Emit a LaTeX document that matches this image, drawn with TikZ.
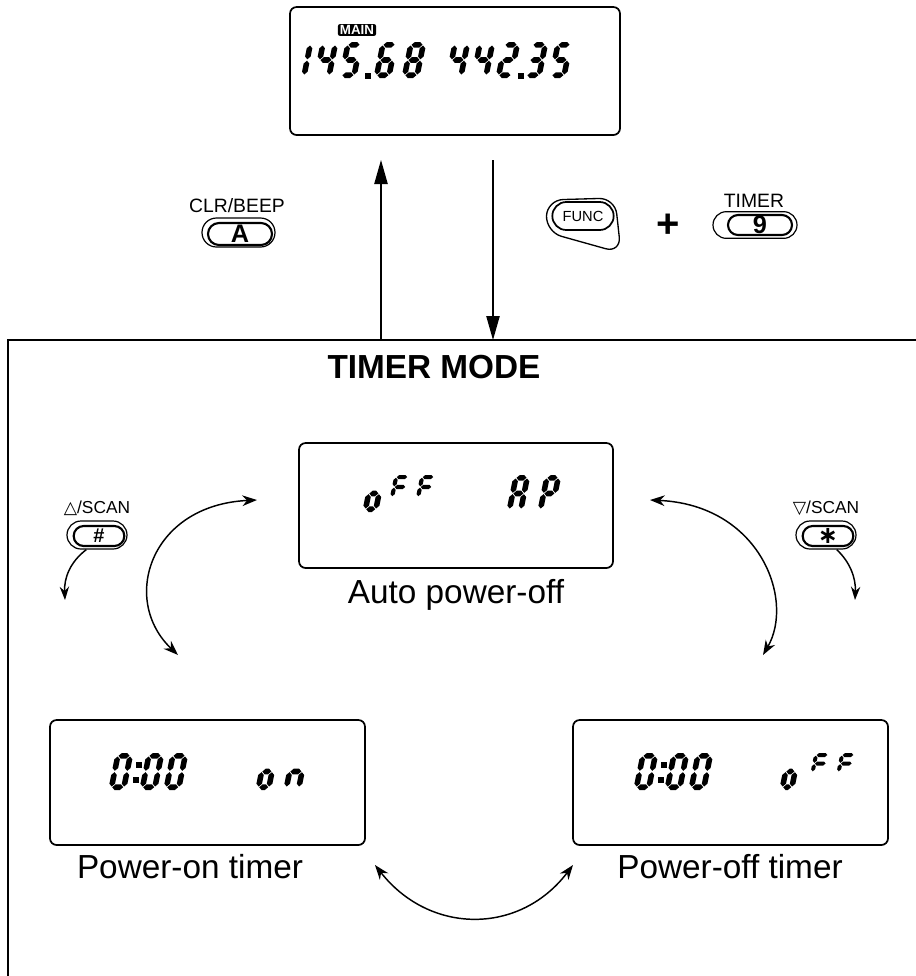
\documentclass[tikz,border=0pt]{standalone}
\usepackage{fontspec}
\setmainfont{Liberation Sans}
\newfontfamily\dejavu{DejaVu Sans}
\usetikzlibrary{arrows.meta,shapes.misc}
\newcommand\sgHor[1]{\fill ({\sgG},{#1}) -- ({\sgG+\sgT},{#1-\sgT}) -- ({\sgW-\sgG-\sgT},{#1-\sgT}) -- ({\sgW-\sgG},{#1}) -- ({\sgW-\sgG-\sgT},{#1+\sgT}) -- ({\sgG+\sgT},{#1+\sgT}) -- cycle;}
\newcommand\sgVer[3]{\fill ({#1},{#2+\sgG}) -- ({#1+\sgT},{#2+\sgG+\sgT}) -- ({#1+\sgT},{#3-\sgG-\sgT}) -- ({#1},{#3-\sgG}) -- ({#1-\sgT},{#3-\sgG-\sgT}) -- ({#1-\sgT},{#2+\sgG+\sgT}) -- cycle;}
\newcommand\lcdsegA{\sgHor{0}}
\newcommand\lcdsegD{\sgHor{\sgH}}
\newcommand\lcdsegG{\sgHor{0.5*\sgH}}
\newcommand\lcdsegB{\sgVer{\sgW}{0}{0.5*\sgH}}
\newcommand\lcdsegC{\sgVer{\sgW}{0.5*\sgH}{\sgH}}
\newcommand\lcdsegE{\sgVer{0}{0.5*\sgH}{\sgH}}
\newcommand\lcdsegF{\sgVer{0}{0}{0.5*\sgH}}
% #1 x (visible top-left), #2 y (visible top), #3 width, #4 height, #5 half thickness, #6 segments
\newcommand\lcdchar[6]{\begin{scope}[shift={({#1+#5},{#2+#5})},xslant=0.2]\pgfmathsetmacro\sgW{#3-2*#5}\pgfmathsetmacro\sgH{#4-2*#5}\def\sgT{#5}\def\sgG{0.7}\foreach \s in {#6}{\csname lcdseg\s\endcsname}\end{scope}}
\newcommand\lcddot[2]{\fill ({#1-2.7},{#2-2.7}) rectangle ({#1+2.7},{#2+2.7});}
\begin{document}
\begin{tikzpicture}[x=0.75pt,y=-0.75pt,
 lcdbox/.style={draw,line width=1.3pt,rounded corners=5pt,inner sep=0pt,minimum height=93.75pt},
 caption/.style={font=\fontsize{25}{30}\selectfont},
 keylbl/.style={font=\fontsize{14.5}{17}\selectfont},
 scanlbl/.style={font=\fontsize{13}{15}\selectfont},
 keyout/.style={draw,rounded rectangle,line width=0.9pt,inner sep=0pt},
 keyin/.style={draw,rounded rectangle,line width=1.6pt,inner sep=0pt,font=\fontsize{19}{20}\selectfont\bfseries},
 bigarrow/.style={line width=1pt,-{Triangle[length=18pt,width=10pt]}},
 curvarrow/.style={line width=1.1pt,{Stealth[length=11pt,width=8pt]}-{Stealth[length=11pt,width=8pt]}},
 smallarrow/.style={line width=1.1pt,-{Stealth[length=10pt,width=7pt]}}]
\useasboundingbox (0,0) rectangle (916,976);

% top display
\node[lcdbox,minimum width=247.5pt,minimum height=96pt] (topbox) at (455,71) {};
\node[fill=black,text=white,rounded corners=1.5pt,inner xsep=1.5pt,inner ysep=1pt,font=\fontsize{10}{11}\selectfont\bfseries] (mainlbl) at (357,30) {MAIN};
\lcdchar{295}{42}{18}{36}{2.8}{B,C}
\lcdchar{320}{42}{18}{36}{2.8}{F,G,B,C}
\lcdchar{345}{42}{18}{36}{2.8}{A,F,G,C,D}
\lcddot{368}{76}
\lcdchar{380}{42}{18}{36}{2.8}{A,F,G,E,D,C}
\lcdchar{408}{42}{18}{36}{2.8}{A,B,C,D,E,F,G}
\lcdchar{452}{42}{18}{36}{2.8}{F,G,B,C}
\lcdchar{477}{42}{18}{36}{2.8}{F,G,B,C}
\lcdchar{502}{42}{18}{36}{2.8}{A,B,G,E,D}
\lcddot{521}{76}
\lcdchar{530}{42}{18}{36}{2.8}{A,B,G,C,D}
\lcdchar{555}{42}{18}{36}{2.8}{A,F,G,C,D}

% keys
\node[keylbl] (clrlbl) at (237,206) {CLR/BEEP};
\node[keyout,minimum width=54.75pt,minimum height=21.75pt] (clrout) at (238.5,232.5) {};
\node[keyin,minimum width=48pt,minimum height=16.5pt] (clrin) at (240,234) {A};

\draw[line width=1pt,rounded corners=12pt] (547,200) -- (615,198) -- (621,253) -- (546,232) -- cycle;
\node[draw,rounded rectangle,line width=1.3pt,inner sep=0pt,minimum width=46pt,minimum height=21pt,font=\fontsize{11}{12}\selectfont] (funcin) at (583,216) {FUNC};
\node[font=\fontsize{30}{30}\selectfont\bfseries] (plus) at (668,226) {+};
\node[keylbl] (timerlbl) at (754,201) {TIMER};
\node[keyout,minimum width=63pt,minimum height=20pt] (nineout) at (755,225) {};
\node[keyin,minimum width=48pt,minimum height=15pt] (ninein) at (760,225) {9};

% vertical arrows
\coordinate (upS) at (381,340);
\coordinate (upE) at (381,160);
\coordinate (dnS) at (493,160);
\coordinate (dnE) at (493,340);
\draw[bigarrow] (upS) -- (upE);
\draw[bigarrow] (dnS) -- (dnE);

% frame
\coordinate (frBL) at (8,980);
\coordinate (frTL) at (8,340);
\coordinate (frTR) at (916,340);
\draw[line width=1.2pt] (frBL) -- (frTL) -- (frTR);
\node[font=\fontsize{25}{30}\selectfont\bfseries] (tmode) at (434,367) {TIMER MODE};

% auto power-off
\node[lcdbox,minimum width=235.5pt] (autobox) at (456,505.5) {};
\lcdchar{369}{475}{16}{37}{2.8}{C,D,E,G}
\lcdchar{394}{475}{16}{24}{2.1}{A,E,F,G}
\lcdchar{420}{475}{16}{24}{2.1}{A,E,F,G}
\lcdchar{513}{475}{17}{37}{2.8}{A,B,C,E,F,G}
\lcdchar{544}{475}{17}{37}{2.8}{A,B,E,F,G}
\node[caption] (autocap) at (456,595) {Auto power-off};

% power-on timer
\node[lcdbox,minimum width=236.25pt] (onbox) at (207.5,782.5) {};
\lcdchar{115}{753}{18}{37}{2.8}{A,B,C,D,E,F}
\lcddot{139}{765}
\lcddot{136}{780}
\lcdchar{146}{753}{18}{37}{2.8}{A,B,C,D,E,F}
\lcdchar{170}{753}{18}{37}{2.8}{A,B,C,D,E,F}
\lcdchar{262}{753}{16}{37}{2.8}{C,D,E,G}
\lcdchar{290}{753}{18}{37}{2.8}{C,E,G}
\node[caption] (oncap) at (190,867) {Power-on timer};

% power-off timer
\node[lcdbox,minimum width=236.25pt] (offbox) at (730.5,782.5) {};
\lcdchar{640}{753}{18}{37}{2.8}{A,B,C,D,E,F}
\lcddot{664}{765}
\lcddot{661}{780}
\lcdchar{671}{753}{18}{37}{2.8}{A,B,C,D,E,F}
\lcdchar{695}{753}{18}{37}{2.8}{A,B,C,D,E,F}
\lcdchar{786}{753}{15}{37}{2.8}{C,D,E,G}
\lcdchar{814}{753}{16}{21}{2.0}{A,E,F,G}
\lcdchar{840}{753}{16}{21}{2.0}{A,E,F,G}
\node[caption] (offcap) at (730,867) {Power-off timer};

% scan keys
\node[scanlbl] (uplbl) at (97,508) {{\dejavu △}/SCAN};
\node[keyout,minimum width=45pt,minimum height=21pt] (hashout) at (97,535) {};
\node[keyin,minimum width=38pt,minimum height=15pt,font=\fontsize{15}{16}\selectfont\bfseries] (hashin) at (99,536) {\#};
\node[scanlbl] (dnlbl) at (826,508) {{\dejavu ▽}/SCAN};
\node[keyout,minimum width=45pt,minimum height=21pt] (starout) at (826,535) {};
\node[keyin,minimum width=38pt,minimum height=15pt,font=\fontsize{18}{18}\selectfont\bfseries] (starin) at (828,536) {{\dejavu ∗}};

\coordinate (lsE) at (65,600);
\coordinate (rsE) at (855,600);
\draw[smallarrow] ([xshift=-8pt]hashout.south) .. controls (70,562) and (64,578) .. (lsE);
\draw[smallarrow] ([xshift=8pt]starout.south) .. controls (850,562) and (856,578) .. (rsE);

% transition arcs
\coordinate (laT) at (257,500);
\coordinate (laB) at (178,655);
\coordinate (raT) at (650,500);
\coordinate (raB) at (763,655);
\coordinate (baL) at (375,865);
\coordinate (baR) at (573,865);
\draw[curvarrow] (laT) .. controls (150,505) and (120,600) .. (laB);
\draw[curvarrow] (raT) .. controls (760,505) and (795,600) .. (raB);
\draw[curvarrow] (baL) .. controls (430,935) and (520,935) .. (baR);
\end{tikzpicture}
\end{document}
